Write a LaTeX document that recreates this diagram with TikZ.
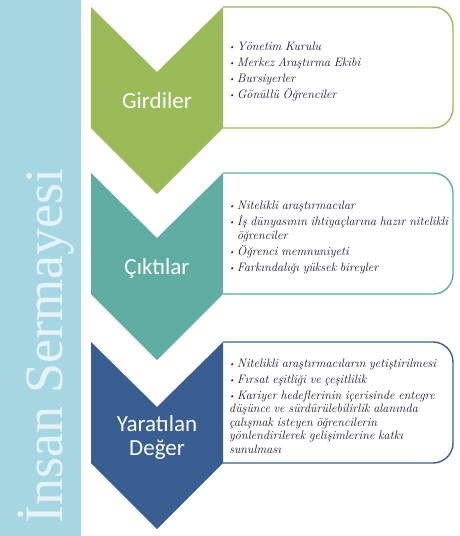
\documentclass[tikz,border=0pt]{standalone}
\usepackage{graphicx}
\usepackage{fontspec}
\newfontfamily\calibri{Carlito}
\newfontfamily\titlefont{Liberation Serif}
\definecolor{barblue}{RGB}{167,214,227}
\definecolor{titlecol}{RGB}{228,243,247}
\definecolor{cgreen}{RGB}{155,187,89}
\definecolor{cteal}{RGB}{96,173,163}
\definecolor{cblue}{RGB}{57,94,146}
\definecolor{txt}{RGB}{20,20,40}
\newcommand{\itm}[1]{\par\hangindent=8pt\hangafter=1\noindent\makebox[8pt][l]{\raisebox{0.2ex}{\scalebox{0.6}{\textbullet}}}#1}
\newcommand{\listsetup}[1]{\hyphenpenalty=10000\spaceskip=0.3em plus 0.1em minus 0.05em\setlength{\parskip}{#1}}
\tikzset{
  steplabel/.style={text=white, font=\calibri\fontsize{23}{24}\selectfont, align=center, inner sep=0pt},
  itemlist/.style={anchor=west, inner sep=0pt, text width=240pt, text=txt, align=left,
    font=\itshape\fontsize{12.2}{13.6}\selectfont},
  panel/.style={draw=#1, line width=1.4pt, fill=white, rounded corners=20pt},
}
\begin{document}
\begin{tikzpicture}[x=1pt,y=-1pt]
\useasboundingbox (0,0) rectangle (459,536);
\fill[white] (0,0) rectangle (459,536);
% left bar
\fill[barblue] (0,0) rectangle (81,536);
\node[rotate=90, anchor=base west, inner sep=0pt, text=titlecol, font=\titlefont\fontsize{54}{56}\selectfont] (title) at (62,524) {İnsan Sermayesi};
% panels
\draw[panel=cgreen] (223,7) -- (453,7) -- (453,128) -- (223,128);
\draw[panel=cteal] (223,173) -- (453,173) -- (453,294) -- (223,294);
\draw[panel=cblue] (223,342) -- (453,342) -- (453,463) -- (223,463);
% chevrons
\fill[cgreen] (91,7) -- (157,72) -- (223,7) -- (223,128) -- (157,194) -- (91,128) -- cycle;
\fill[cteal] (91,173) -- (157,238) -- (223,173) -- (223,294) -- (157,360) -- (91,294) -- cycle;
\fill[cblue] (91,342) -- (157,407) -- (223,342) -- (223,463) -- (157,529) -- (91,463) -- cycle;
% labels
\node[steplabel] (l1) at (157,101) {Girdiler};
\node[steplabel] (l2) at (157,268) {Çıktılar};
\node[steplabel] (l3) at (157,437) {Yaratılan\\Değer};
% lists
\node[itemlist] (t1) at (229,67.5) {\listsetup{2.5pt}%
\itm{Yönetim Kurulu}
\itm{Merkez Araştırma Ekibi}
\itm{Bursiyerler}
\itm{Gönüllü Öğrenciler}};
\node[itemlist] (t2) at (229,234) {\listsetup{2.5pt}%
\itm{Nitelikli araştırmacılar}
\itm{İş dünyasının ihtiyaçlarına hazır nitelikli\newline öğrenciler}
\itm{Öğrenci memnuniyeti}
\itm{Farkındalığı yüksek bireyler}};
\node[itemlist] (t3) at (229,403) {\listsetup{2pt}%
\itm{Nitelikli araştırmacıların yetiştirilmesi}
\itm{Fırsat eşitliği ve çeşitlilik}
\itm{Kariyer hedeflerinin içerisinde entegre\newline düşünce ve sürdürülebilirlik alanında\newline çalışmak isteyen öğrencilerin\newline yönlendirilerek gelişimlerine katkı\newline sunulması}};
\end{tikzpicture}
\end{document}
